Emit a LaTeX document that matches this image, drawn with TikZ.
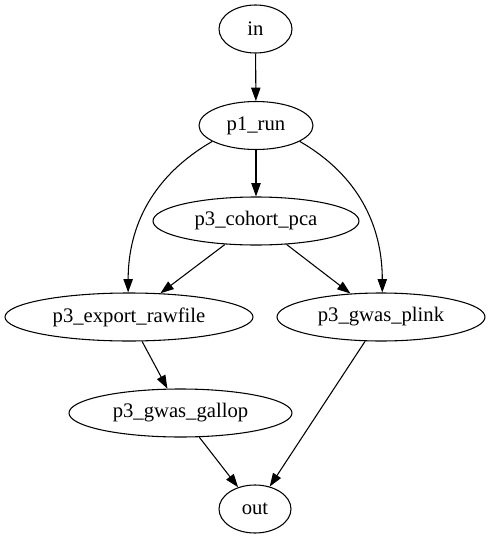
\documentclass[tikz,border=0pt]{standalone}
\usepackage{fontspec}
\setmainfont{Liberation Serif}
\usepackage{tikz}
\usetikzlibrary{arrows.meta,shapes.geometric}
\tikzset{
	task/.style={ellipse, draw, line width=0.8pt, inner sep=0pt, minimum height=36pt, font=\fontsize{15.5}{18}\selectfont},
	flow/.style={line width=0.8pt, -{Triangle[length=10pt,width=7pt]}}
}

\begin{document}
\begin{tikzpicture}[x=0.75pt, y=-0.75pt]
			%%%%% START %%%%%
			
			\useasboundingbox (0, 0) rectangle (491, 539);
			
			\node[task, minimum width=54.75pt] (in) at (255.5, 29) {in};
			\node[task, minimum width=85.5pt] (p1run) at (256, 125.5) {p1\_run};
			\node[task, minimum width=154.5pt] (cohortpca) at (256, 221) {p3\_cohort\_pca};
			\node[task, minimum width=186pt] (exportraw) at (129, 317) {p3\_export\_rawfile};
			\node[task, minimum width=156pt] (gwasplink) at (381, 317) {p3\_gwas\_plink};
			\node[task, minimum width=167.25pt] (gwasgallop) at (180.5, 413) {p3\_gwas\_gallop};
			\node[task, minimum width=54pt] (out) at (255, 509) {out};
			
			\draw[flow] (in) -- (p1run);
			\draw[flow] (p1run) -- (cohortpca);
			\draw[flow] (p1run.200) to[out=210, in=90] (exportraw.92);
			\draw[flow] (p1run.-20) to[out=-30, in=90] (gwasplink.87);
			\draw[flow] (cohortpca) -- (exportraw);
			\draw[flow] (cohortpca) -- (gwasplink);
			\draw[flow] (exportraw) -- (gwasgallop);
			\draw[flow] (gwasgallop) -- (out);
			\draw[flow] (gwasplink) -- (out);
			
			%%%%% END %%%%%
\end{tikzpicture}
\end{document}
